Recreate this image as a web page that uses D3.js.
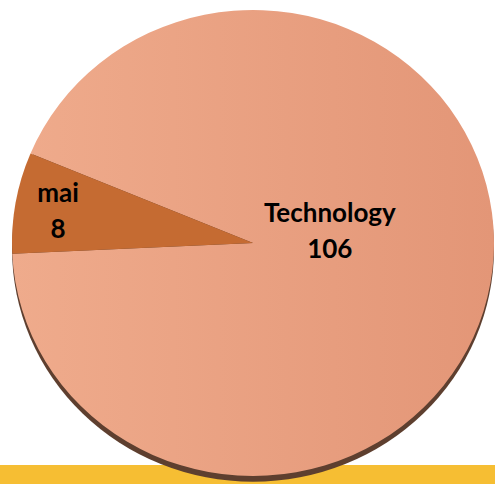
<!DOCTYPE html>
<html>
<head>
<meta charset="utf-8">
<script src="https://cdn.jsdelivr.net/npm/d3@7"></script>
<style>
  body { margin: 0; background: #fff; }
  svg { display: block; }
</style>
</head>
<body>
<div id="container"></div>
<script>
// data
const categories = ["Technology", "mai"];
const values = [106, 8];

const width = 495, height = 484;
const cx = 253, cy = 243, rx = 241, ry = 233;

const colors = ["url(#bigGrad)", "#c56b32"];

const svg = d3.select("#container")
  .append("svg")
  .attr("width", width)
  .attr("height", height);

const defs = svg.append("defs");
const grad = defs.append("linearGradient")
  .attr("id", "bigGrad")
  .attr("gradientUnits", "userSpaceOnUse")
  .attr("x1", -rx).attr("y1", 0).attr("x2", rx).attr("y2", 0);
grad.append("stop").attr("offset", "0%").attr("stop-color", "#efab8c");
grad.append("stop").attr("offset", "100%").attr("stop-color", "#e39677");

// yellow band at the bottom
svg.append("rect")
  .attr("x", 0).attr("y", 465)
  .attr("width", width).attr("height", height - 465)
  .attr("fill", "#f6be33");

const g = svg.append("g")
  .attr("transform", `translate(${cx},${cy}) scale(1,${ry / rx})`);

// shadow under the pie
g.append("circle")
  .attr("cx", 0).attr("cy", 6)
  .attr("r", rx)
  .attr("fill", "#5e3f2f");

const pie = d3.pie()
  .sort(null)
  .startAngle(-67.4 * Math.PI / 180)
  .endAngle(292.6 * Math.PI / 180);

const arcs = pie(values);
const arc = d3.arc().innerRadius(0).outerRadius(rx);

g.selectAll("path.slice")
  .data(arcs)
  .join("path")
  .attr("class", "slice")
  .attr("d", arc)
  .attr("fill", (d, i) => colors[i]);

// labels
const labelRadius = [78, 198];
const labelShift = [-30, -4];

const labels = svg.append("g")
  .attr("transform", `translate(${cx},${cy})`);

labels.selectAll("text")
  .data(arcs)
  .join("text")
  .attr("transform", (d, i) => {
    const a = (d.startAngle + d.endAngle) / 2;
    const x = Math.sin(a) * labelRadius[i];
    const y = -Math.cos(a) * labelRadius[i] * ry / rx + labelShift[i];
    return `translate(${x},${y})`;
  })
  .attr("text-anchor", "middle")
  .attr("font-family", "Lato, 'Open Sans', sans-serif")
  .attr("font-weight", "bold")
  .attr("font-size", 26)
  .attr("fill", "#000")
  .each(function(d, i) {
    const t = d3.select(this);
    t.append("tspan").attr("x", 0).attr("dy", -4).text(categories[i]);
    t.append("tspan").attr("x", 0).attr("dy", 36).text(values[i]);
  });
</script>
</body>
</html>
